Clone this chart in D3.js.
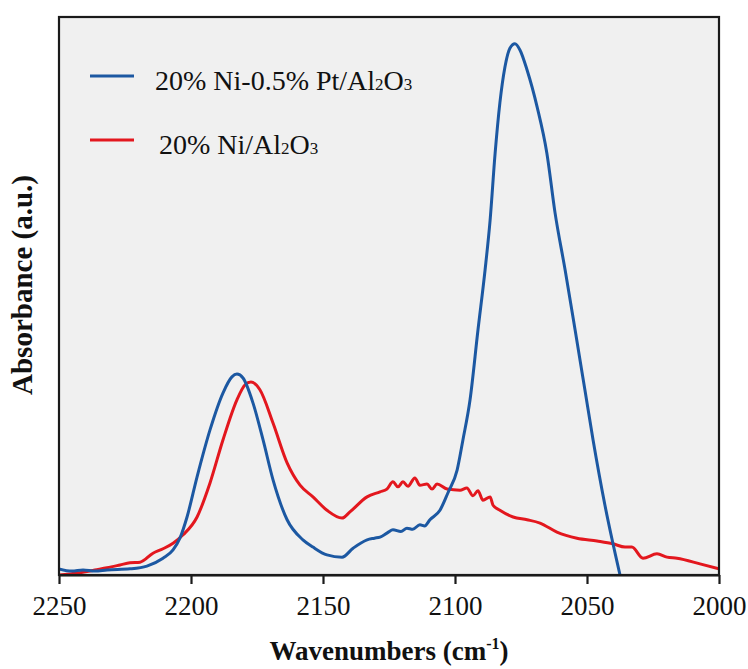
<!DOCTYPE html>
<html><head><meta charset="utf-8">
<script src="https://cdn.jsdelivr.net/npm/d3@7/dist/d3.min.js"></script>
<style>body{margin:0;background:#fff;}svg{display:block;}</style>
</head><body>
<script>
const xTicks = [2250, 2200, 2150, 2100, 2050, 2000];
const seriesNames = ["20% Ni-0.5% Pt/Al2O3", "20% Ni/Al2O3"];
const ptWn = [2250,2245.1,2240.9,2236.4,2231.8,2223.1,2216.7,2210.6,2206.8,2204.2,2201.5,2197.7,2192.8,2187.9,2184.5,2182.6,2180.3,2176.5,2172.7,2168.9,2163.6,2157.6,2153.8,2148.5,2142.8,2138.6,2133.3,2130.5,2128.4,2125.5,2123.5,2120.5,2118.2,2116,2113.3,2111.5,2109.5,2105.7,2102.7,2099.2,2097.0,2094.3,2091.3,2088.6,2086.7,2084.8,2083.0,2081.1,2079.2,2077.3,2075.4,2072.7,2068.9,2065.2,2062.1,2058.3,2054.5,2050.8,2047.7,2043.2,2037.5];
const ptAbs = [0.011,0.007,0.009,0.007,0.009,0.011,0.016,0.030,0.045,0.066,0.104,0.176,0.260,0.326,0.355,0.360,0.353,0.308,0.242,0.170,0.099,0.063,0.050,0.036,0.032,0.048,0.063,0.066,0.068,0.076,0.081,0.078,0.084,0.082,0.090,0.088,0.099,0.116,0.147,0.188,0.242,0.314,0.439,0.547,0.636,0.756,0.846,0.910,0.944,0.952,0.941,0.905,0.839,0.756,0.649,0.547,0.439,0.332,0.242,0.125,0.000];
const niWn = [2250,2245.8,2242,2236.4,2231.8,2226.9,2223.1,2219.3,2214.4,2210.6,2206.8,2203.0,2197.7,2192.8,2187.9,2182.6,2179.5,2177.3,2173.9,2168.9,2163.6,2158.7,2153.8,2148.5,2142.8,2139.8,2133.3,2128.4,2125.8,2123.5,2121.6,2119.7,2117.8,2115.2,2113.3,2110.6,2108.7,2106.8,2103.0,2098.1,2095.5,2093.2,2091.3,2089.4,2086.7,2085.6,2083.0,2078.0,2072.7,2067.8,2061.4,2053.8,2046.2,2040.2,2035.6,2033.0,2028.8,2023.5,2019.7,2015.9,2007.2,2000];
const niAbs = [0.000,0.002,0.004,0.009,0.013,0.018,0.022,0.023,0.039,0.047,0.057,0.072,0.104,0.165,0.242,0.314,0.341,0.346,0.332,0.272,0.201,0.161,0.140,0.116,0.102,0.113,0.140,0.149,0.154,0.167,0.158,0.167,0.159,0.174,0.161,0.163,0.154,0.163,0.154,0.152,0.156,0.142,0.151,0.134,0.140,0.125,0.116,0.104,0.099,0.093,0.077,0.066,0.061,0.056,0.050,0.050,0.030,0.038,0.032,0.030,0.020,0.011];
const colors = ["#1c58a2", "#e3171e"];

const W = 748, H = 669;
const m = {left: 59, right: 719, top: 17, bottom: 575};
const svg = d3.select("body").append("svg").attr("width", W).attr("height", H);
const x = d3.scaleLinear().domain([2250, 2000]).range([m.left, m.right]);
const y = d3.scaleLinear().domain([0, 1]).range([m.bottom, m.top]);

svg.append("rect").attr("x", m.left).attr("y", m.top).attr("width", m.right - m.left).attr("height", m.bottom - m.top).attr("fill", "#f0f0f0");

svg.append("clipPath").attr("id", "clip").append("rect").attr("x", m.left).attr("y", m.top).attr("width", m.right - m.left).attr("height", m.bottom - m.top + 1);

const line = d3.line().x(d => x(d[0])).y(d => y(d[1])).curve(d3.curveMonotoneX);
const series = [d3.zip(ptWn, ptAbs), d3.zip(niWn, niAbs)];
const g = svg.append("g").attr("clip-path", "url(#clip)");
g.append("path").datum(series[1]).attr("d", line).attr("fill", "none").attr("stroke", colors[1]).attr("stroke-width", 3).attr("stroke-linejoin", "round");
g.append("path").datum(series[0]).attr("d", line).attr("fill", "none").attr("stroke", colors[0]).attr("stroke-width", 3).attr("stroke-linejoin", "round");

// frame
svg.append("rect").attr("x", m.left).attr("y", m.top).attr("width", m.right - m.left).attr("height", m.bottom - m.top).attr("fill", "none").attr("stroke", "#1a1a1a").attr("stroke-width", 2.2);

const xAxis = svg.append("g").attr("transform", `translate(0,${m.bottom})`)
  .call(d3.axisBottom(x).tickValues(xTicks).tickSize(9).tickSizeOuter(0).tickFormat(d3.format("d")));
xAxis.select(".domain").attr("stroke", "#1a1a1a").attr("stroke-width", 2.2);
xAxis.selectAll(".tick line").attr("stroke", "#1a1a1a").attr("stroke-width", 2.2);
xAxis.selectAll(".tick text").attr("font-family", "'Liberation Serif', serif").attr("font-size", 27).attr("fill", "#111").attr("dy", "1.05em");

// axis titles
const xt = svg.append("text").attr("x", 389).attr("y", 660).attr("text-anchor", "middle")
  .attr("font-family", "'Liberation Serif', serif").attr("font-weight", "bold").attr("font-size", 27).attr("fill", "#111");
xt.append("tspan").text("Wavenumbers (cm");
xt.append("tspan").attr("font-size", 16).attr("dy", -11).text("-1");
xt.append("tspan").attr("dy", 11).text(")");

svg.append("text").attr("transform", "translate(32,285) rotate(-90)").attr("text-anchor", "middle")
  .attr("font-family", "'Liberation Serif', serif").attr("font-weight", "bold").attr("font-size", 29).attr("fill", "#111")
  .text("Absorbance (a.u.)");

// legend
const legY = [76, 140];
const legTextX = [155, 159];
seriesNames.forEach((name, i) => {
  svg.append("line").attr("x1", 90).attr("x2", 134).attr("y1", legY[i]).attr("y2", legY[i]).attr("stroke", colors[i]).attr("stroke-width", 3);
  const t = svg.append("text").attr("x", legTextX[i]).attr("y", legY[i] + 14)
    .attr("font-family", "'Liberation Serif', serif").attr("font-size", 28).attr("fill", "#111");
  const base = name.replace(/Al2O3$/, "");
  t.append("tspan").text(base + "Al");
  t.append("tspan").attr("font-size", 17).text("2");
  t.append("tspan").text("O");
  t.append("tspan").attr("font-size", 17).text("3");
});
</script>
</body></html>
